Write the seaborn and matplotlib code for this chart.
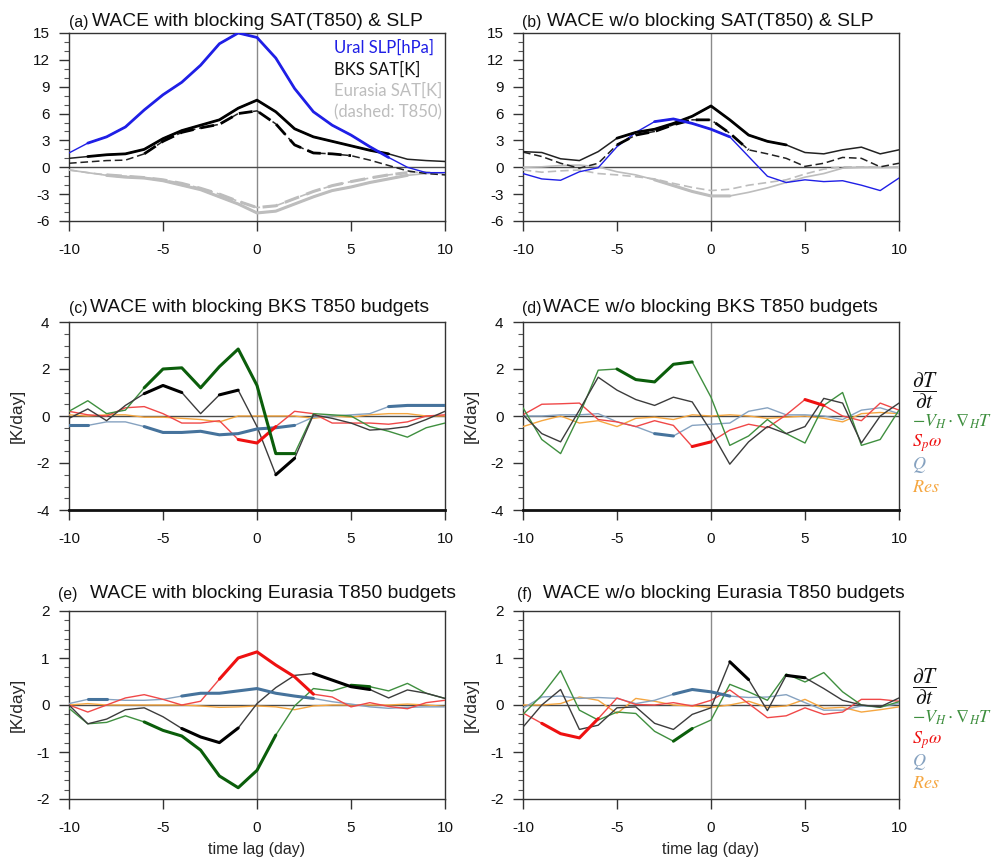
import numpy as np
import pandas as pd
import matplotlib
matplotlib.use("Agg")
import matplotlib.pyplot as plt
import seaborn as sns

# ---------------- data ----------------
lags = list(range(-10, 11))

# (a) WACE with blocking
a_slp = [1.6, 2.7, 3.4, 4.5, 6.4, 8.1, 9.5, 11.4, 13.8, 15.0, 14.5, 12.2, 8.8, 6.2, 4.7, 3.6, 2.3, 1.1, 0.0, -0.6, -0.6]
a_bks_sat = [1.0, 1.2, 1.4, 1.5, 2.0, 3.2, 4.1, 4.7, 5.3, 6.6, 7.5, 6.2, 4.3, 3.4, 2.9, 2.4, 1.9, 1.5, 0.9, 0.75, 0.65]
a_bks_t850 = [0.45, 0.6, 0.75, 0.8, 1.5, 2.9, 3.9, 4.4, 4.8, 6.0, 6.3, 4.85, 2.5, 1.6, 1.5, 1.3, 0.8, 0.2, -0.4, -0.7, -0.85]
a_eur_sat = [-0.3, -0.6, -0.9, -1.1, -1.2, -1.5, -2.0, -2.5, -3.3, -4.1, -5.1, -4.9, -4.1, -3.3, -2.6, -2.2, -1.7, -1.3, -0.9, -0.7, -0.6]
a_eur_t850 = [-0.3, -0.6, -0.85, -1.0, -1.15, -1.4, -1.8, -2.35, -3.0, -3.8, -4.5, -4.3, -3.5, -2.7, -2.05, -1.6, -1.2, -0.85, -0.6, -0.5, -0.75]

# (b) WACE w/o blocking
b_slp = [-0.7, -1.3, -1.45, -0.5, -0.05, 2.3, 3.9, 5.1, 5.4, 4.9, 4.25, 3.4, 1.2, -1.0, -1.7, -1.4, -1.6, -1.5, -2.0, -2.6, -1.2]
b_bks_sat = [1.75, 1.65, 0.95, 0.75, 1.75, 3.25, 3.9, 4.25, 4.9, 5.7, 6.85, 5.3, 3.6, 2.9, 2.5, 1.65, 1.5, 1.95, 2.25, 1.5, 1.95]
b_bks_t850 = [1.7, 1.2, 0.45, -0.1, 0.45, 2.5, 3.6, 4.0, 4.75, 5.3, 5.3, 3.8, 1.95, 1.5, 1.0, 0.1, 0.45, 1.1, 1.0, 0.05, 0.45]
b_eur_sat = [0.0, 0.05, 0.2, 0.25, 0.05, -0.5, -0.85, -1.4, -2.05, -2.7, -3.2, -3.2, -2.8, -2.3, -1.7, -1.1, -0.7, -0.1, 0.0, 0.0, 0.0]
b_eur_t850 = [-0.3, -0.55, -0.4, -0.3, -0.7, -0.85, -1.05, -1.3, -1.8, -2.25, -2.6, -2.45, -2.0, -1.7, -1.4, -0.75, -0.2, 0.05, 0.05, 0.0, 0.05]

# (c) BKS budgets, with blocking
c_dTdt = [-0.1, 0.3, -0.2, 0.45, 0.95, 1.3, 1.0, 0.1, 0.9, 1.1, -0.45, -2.5, -1.8, 0.05, -0.1, -0.3, -0.6, -0.55, -0.45, -0.15, 0.2]
c_adv = [0.2, 0.65, 0.1, 0.25, 1.2, 2.0, 2.05, 1.2, 2.1, 2.85, 1.3, -1.6, -1.6, 0.1, 0.05, 0.0, -0.45, -0.65, -0.9, -0.5, -0.3]
c_spw = [0.2, 0.05, 0.0, 0.35, 0.4, 0.1, -0.3, -0.3, -0.2, -1.0, -1.15, -0.45, 0.2, 0.1, -0.3, -0.3, -0.3, -0.35, -0.25, 0.0, 0.05]
c_q = [-0.4, -0.4, -0.25, -0.25, -0.45, -0.7, -0.7, -0.65, -0.8, -0.75, -0.55, -0.5, -0.4, -0.05, 0.0, 0.05, 0.1, 0.4, 0.45, 0.45, 0.45]
c_res = [0.05, 0.0, 0.05, 0.05, -0.05, -0.05, -0.1, -0.15, -0.25, 0.0, 0.0, 0.0, 0.0, -0.1, 0.0, -0.05, 0.05, 0.1, 0.1, 0.0, 0.0]

# (d) BKS budgets, w/o blocking
d_dTdt = [0.05, -0.75, -1.1, 0.25, 1.65, 1.1, 0.7, 0.45, 0.8, 0.6, -0.65, -2.05, -1.1, -0.45, -0.75, -0.45, 0.75, 0.55, -1.15, 0.0, 0.55]
d_adv = [0.35, -1.0, -1.6, 0.05, 1.95, 2.0, 1.55, 1.45, 2.2, 2.3, 0.8, -1.25, -0.85, -0.15, -0.75, -1.15, 0.45, 1.0, -1.25, -1.0, 0.25]
d_spw = [0.05, 0.5, 0.52, 0.55, -0.15, -0.25, -0.45, -0.2, -0.4, -1.3, -1.1, -0.6, -0.35, -0.5, 0.05, 0.7, 0.45, 0.0, -0.2, 0.55, 0.25]
d_q = [0.0, 0.0, 0.05, 0.05, 0.1, -0.25, -0.45, -0.75, -0.85, -0.4, -0.35, -0.3, 0.2, 0.35, 0.05, 0.05, 0.0, -0.15, 0.25, 0.35, 0.1]
d_res = [-0.45, -0.2, 0.0, -0.3, -0.2, -0.45, -0.1, -0.05, -0.15, 0.05, 0.0, 0.05, 0.0, -0.1, -0.05, 0.0, -0.1, -0.25, 0.1, 0.15, 0.1]

# (e) Eurasia budgets, with blocking
e_dTdt = [0.0, -0.4, -0.3, -0.1, -0.06, -0.25, -0.5, -0.68, -0.8, -0.49, 0.03, 0.37, 0.63, 0.67, 0.53, 0.39, 0.33, 0.15, 0.32, 0.25, 0.14]
e_adv = [-0.07, -0.4, -0.37, -0.23, -0.36, -0.54, -0.66, -0.96, -1.51, -1.76, -1.39, -0.64, -0.02, 0.35, 0.3, 0.42, 0.39, 0.3, 0.46, 0.25, 0.14]
e_spw = [0.0, -0.15, 0.0, 0.15, 0.22, 0.12, 0.0, 0.08, 0.55, 1.0, 1.13, 0.85, 0.6, 0.23, 0.17, -0.04, 0.05, -0.03, -0.08, 0.05, 0.1]
e_q = [0.03, 0.12, 0.12, 0.1, 0.1, 0.12, 0.19, 0.25, 0.25, 0.3, 0.35, 0.25, 0.19, 0.14, 0.07, 0.02, -0.04, -0.07, -0.05, -0.04, -0.04]
e_res = [0.0, 0.03, 0.0, 0.0, 0.0, 0.0, 0.0, -0.02, -0.05, -0.04, -0.02, -0.04, -0.1, -0.02, 0.0, 0.0, 0.0, 0.0, 0.02, 0.0, -0.03]

# (f) Eurasia budgets, w/o blocking
f_dTdt = [-0.47, 0.0, 0.33, -0.52, -0.43, -0.06, -0.04, -0.39, -0.52, -0.2, -0.06, 0.92, 0.54, -0.12, 0.63, 0.58, 0.35, 0.1, 0.0, -0.04, 0.15]
f_adv = [-0.2, 0.21, 0.73, -0.11, -0.32, -0.15, -0.18, -0.56, -0.77, -0.5, -0.32, 0.44, 0.28, 0.1, 0.66, 0.49, 0.69, 0.28, 0.0, -0.05, 0.07]
f_spw = [-0.17, -0.39, -0.61, -0.7, -0.29, 0.15, 0.01, 0.0, 0.05, -0.02, 0.1, 0.32, 0.03, -0.27, -0.23, -0.06, -0.2, -0.15, 0.12, 0.12, 0.08]
f_q = [-0.07, 0.17, 0.19, 0.14, 0.16, 0.14, 0.03, 0.1, 0.23, 0.33, 0.28, 0.19, 0.16, 0.17, 0.22, 0.05, -0.11, -0.11, -0.02, -0.04, 0.03]
f_res = [0.0, 0.0, 0.03, 0.17, 0.1, -0.18, 0.14, 0.08, 0.0, -0.02, -0.05, 0.0, 0.08, -0.05, -0.02, 0.12, -0.07, -0.05, -0.15, -0.1, -0.04]

# significant lag ranges (drawn thick)
a_sig = {"slp": [(-9, 7)], "bks_sat": [(-9, 7)], "bks_t850": [(-6, 5)],
         "eur_sat": [(-8, 8)], "eur_t850": [(-8, 8)]}
b_sig = {"slp": [(-3, 1)], "bks_sat": [(-5, 4)], "bks_t850": [(-5, 2)],
         "eur_sat": [(-3, 1)], "eur_t850": []}
c_sig = {"dTdt": [(-6, -4), (-2, -1), (1, 2)], "adv": [(-6, 2)], "spw": [(-1, 1)],
         "q": [(-10, -9), (-6, 2), (7, 10)], "res": []}
d_sig = {"dTdt": [], "adv": [(-5, -1)], "spw": [(-1, 0), (5, 6)], "q": [(-3, -2)], "res": []}
e_sig = {"dTdt": [(-4, -1), (3, 6)], "adv": [(-6, 1), (5, 6)], "spw": [(-2, 3)],
         "q": [(-9, -8), (-4, 3)], "res": []}
f_sig = {"dTdt": [(1, 2), (4, 5)], "adv": [(-2, -1)], "spw": [(-9, -6)], "q": [(-2, 1)], "res": []}

titles = ["WACE with blocking SAT(T850) & SLP", "WACE w/o blocking SAT(T850) & SLP",
          "WACE with blocking BKS T850 budgets", "WACE w/o blocking BKS T850 budgets",
          "WACE with blocking Eurasia T850 budgets", "WACE w/o blocking Eurasia T850 budgets"]
tags = ["(a)", "(b)", "(c)", "(d)", "(e)", "(f)"]
legend_a = ["Ural SLP[hPa]", "BKS SAT[K]", "Eurasia SAT[K]", "(dashed: T850)"]
budget_labels = [r"$\dfrac{\partial T}{\partial t}$", r"$-V_H\cdot\nabla_H T$",
                 r"$S_p\omega$", r"$Q$", r"$Res$"]

# ---------------- style ----------------
sns.set_style("ticks")
plt.rcParams["font.family"] = ["Liberation Sans", "DejaVu Sans"]
plt.rcParams["axes.linewidth"] = 1.0

W, H = 993, 861
fig = plt.figure(figsize=(W / 100, H / 100), dpi=100)


def fx(px):
    return px / W


def fy(py):
    return 1 - py / H


def make_ax(left, top, bottom):
    return fig.add_axes([fx(left), fy(bottom), fx(376), (bottom - top) / H])


BLUE = "#1f1fe6"
GRAY = "#bdbdbd"
C_BLK_T, C_BLK_K = "#3c3c3c", "#000000"
C_GRN_T, C_GRN_K = "#3f8f3f", "#0b5e0b"
C_RED_T, C_RED_K = "#f04848", "#ee1111"
C_Q_T, C_Q_K = "#86a2c0", "#46739c"
C_RES = "#f5a640"


def runs(ranges):
    return [(lags.index(lo), lags.index(hi)) for lo, hi in ranges]


def draw(ax, y, sig, c_thin, c_thick, lw_thin=1.0, lw_thick=2.2, dashed=False, z=3):
    ls = (0, (5, 2.5)) if dashed else "-"
    df = pd.DataFrame({"lag": lags, "val": y})
    sns.lineplot(data=df, x="lag", y="val", ax=ax, color=c_thin, lw=lw_thin,
                 linestyle=ls, estimator=None, sort=False, zorder=z)
    for i0, i1 in runs(sig):
        sub = df.iloc[i0:i1 + 1]
        sns.lineplot(data=sub, x="lag", y="val", ax=ax, color=c_thick, lw=lw_thick,
                     linestyle=ls, estimator=None, sort=False, zorder=z + 0.5)


def style_ax(ax, ylim, ystep, yminor, bottom_thick=False):
    ax.set_xlim(-10, 10)
    ax.set_ylim(*ylim)
    ax.set_xticks([-10, -5, 0, 5, 10])
    ax.set_xticklabels(["-10", "-5", "0", "5", "10"])
    yt = np.arange(ylim[0], ylim[1] + 1e-9, ystep)
    ax.set_yticks(yt)
    ax.set_yticklabels([f"{v:g}" for v in yt])
    ax.set_yticks(np.arange(ylim[0], ylim[1] + 1e-9, yminor), minor=True)
    ax.tick_params(axis="both", which="major", direction="out", length=7, width=1,
                   labelsize=11, colors="#333333")
    ax.tick_params(axis="y", which="major", pad=7)
    ax.tick_params(axis="x", which="major", pad=9)
    ax.tick_params(axis="y", which="minor", direction="out", length=3.5, width=0.8,
                   colors="#555555")
    ax.tick_params(axis="x", which="minor", bottom=False)
    ax.tick_params(axis="both", labelcolor="#111111")
    for s in ax.spines.values():
        s.set_visible(True)
        s.set_color("#333333")
        s.set_linewidth(1.0)
    if bottom_thick:
        ax.spines["bottom"].set_linewidth(2.0)
        ax.spines["bottom"].set_color("#111111")
    ax.axvline(0, color="#8a8a8a", lw=1.0, zorder=1)
    ax.axhline(0, color="#4a4a4a", lw=1.0, zorder=1)
    ax.set_xlabel("")
    ax.set_ylabel("")


ax_a = make_ax(69, 33, 221)
ax_b = make_ax(523, 33, 221)
ax_c = make_ax(69, 322, 510)
ax_d = make_ax(523, 322, 510)
ax_e = make_ax(69, 611, 799)
ax_f = make_ax(523, 611, 799)

# ---- top panels ----
for ax, slp, bsat, bt, esat, et, sg in [
        (ax_a, a_slp, a_bks_sat, a_bks_t850, a_eur_sat, a_eur_t850, a_sig),
        (ax_b, b_slp, b_bks_sat, b_bks_t850, b_eur_sat, b_eur_t850, b_sig)]:
    draw(ax, et, sg["eur_t850"], GRAY, GRAY, lw_thin=1.2, lw_thick=2.2, dashed=True)
    draw(ax, esat, sg["eur_sat"], GRAY, GRAY, lw_thin=1.2, lw_thick=2.2)
    draw(ax, bt, sg["bks_t850"], "#222222", "#000000", lw_thin=1.1, lw_thick=2.0, dashed=True)
    draw(ax, bsat, sg["bks_sat"], "#222222", "#000000", lw_thin=1.1, lw_thick=2.0)
    draw(ax, slp, sg["slp"], BLUE, BLUE, lw_thin=1.0, lw_thick=2.0)
    style_ax(ax, (-6, 15), 3, 1)

# ---- budget panels ----
budget_sets = [(ax_c, c_dTdt, c_adv, c_spw, c_q, c_res, c_sig, (-4, 4), 2, 0.5),
               (ax_d, d_dTdt, d_adv, d_spw, d_q, d_res, d_sig, (-4, 4), 2, 0.5),
               (ax_e, e_dTdt, e_adv, e_spw, e_q, e_res, e_sig, (-2, 2), 1, 0.2),
               (ax_f, f_dTdt, f_adv, f_spw, f_q, f_res, f_sig, (-2, 2), 1, 0.2)]
for ax, dT, adv, spw, q, res, sg, ylim, ys, ym in budget_sets:
    draw(ax, res, sg["res"], C_RES, C_RES, lw_thin=1.0)
    draw(ax, q, sg["q"], C_Q_T, C_Q_K, lw_thin=1.0)
    draw(ax, spw, sg["spw"], C_RED_T, C_RED_K, lw_thin=1.0)
    draw(ax, adv, sg["adv"], C_GRN_T, C_GRN_K, lw_thin=1.0)
    draw(ax, dT, sg["dTdt"], C_BLK_T, C_BLK_K, lw_thin=1.0)
    style_ax(ax, ylim, ys, ym, bottom_thick=(ylim[0] == -4))
    ax.set_ylabel("[K/day]", fontsize=12.5, labelpad=8)

for ax in (ax_e, ax_f):
    ax.set_xlabel("time lag (day)", fontsize=11.5, labelpad=5)

# ---- titles ----
title_pos = [(69, 92, 22), (522, 547, 22), (69, 90, 307), (522, 543, 307),
             (58, 90, 594), (517, 543, 594)]
for (tx, mx, yc), tag, t in zip(title_pos, tags, titles):
    fig.text(fx(tx), fy(yc + 1), tag, fontsize=11.3, ha="left", va="center", color="#111111")
    fig.text(fx(mx), fy(yc), t, fontsize=13.9, ha="left", va="center", color="#111111")

# ---- legend of panel (a) ----
leg_cols = [BLUE, "#111111", GRAY, GRAY]
leg_y = [48, 70, 91, 112]
for s, c, yy in zip(legend_a, leg_cols, leg_y):
    fig.text(fx(334), fy(yy), s, fontsize=12, ha="left", va="center", color=c,
             family=["Lato", "DejaVu Sans"])

# ---- budget legends on the right ----
b_cols = ["#111111", C_GRN_T, C_RED_K, C_Q_T, C_RES]
b_size = [15.5, 13, 13, 13, 13]
for ys in [(391, 422, 443, 465, 487), (687, 718, 740, 762, 783)]:
    for lab, c, yy, fs in zip(budget_labels, b_cols, ys, b_size):
        fig.text(fx(912), fy(yy), lab, fontsize=fs, ha="left", va="center", color=c,
                 math_fontfamily="stix")

fig.savefig("out.png", dpi=100)
